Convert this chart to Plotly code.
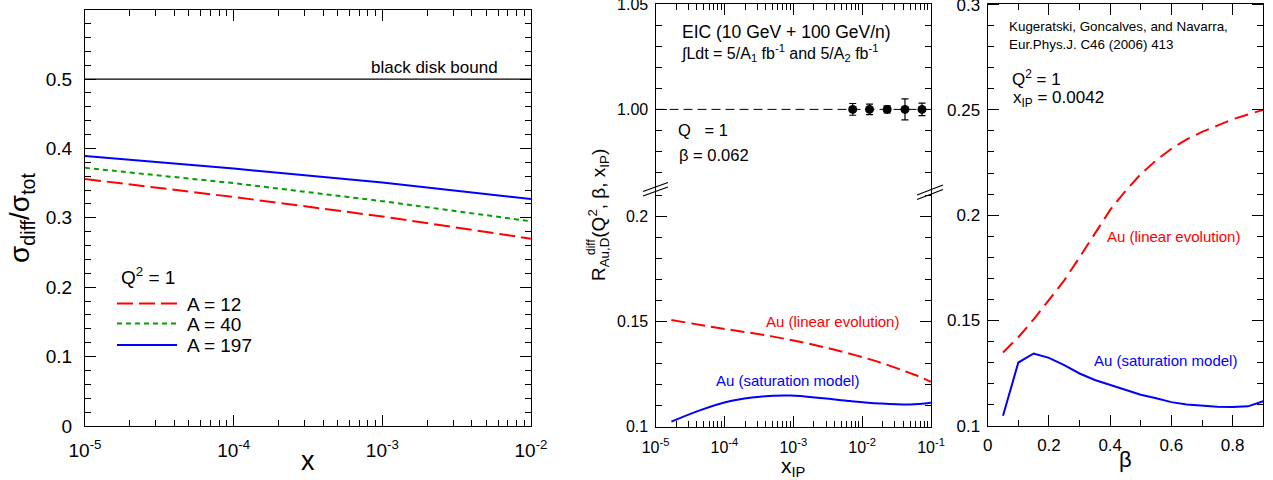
import plotly.graph_objects as go

W, H = 1273, 480
FONT = "Liberation Sans, Arial, Helvetica, sans-serif"

# ---------------- data ----------------
# left panel: sigma_diff / sigma_tot vs x  (Q^2 = 1)
x_left = [1e-5, 1e-4, 1e-3, 1e-2]
a12 = [0.356, 0.330, 0.302, 0.270]
a40 = [0.372, 0.350, 0.324, 0.295]
a197 = [0.389, 0.371, 0.351, 0.327]
black_disk = 0.5
legend_labels = ["A = 12", "A = 40", "A = 197"]

# middle panel: R^diff vs x_IP
xip_lin = [1.7e-5, 9.1e-5, 4.9e-4, 2.6e-3, 1.38e-2, 5.9e-2, 1e-1]
lin_mid = [0.1508, 0.1468, 0.1430, 0.1381, 0.1318, 0.1246, 0.1214]
xip_sat = [1.7e-5, 4.5e-5, 1.23e-4, 3.3e-4, 9.1e-4, 2.75e-3, 6.8e-3, 1.8e-2, 5e-2, 1e-1]
sat_mid = [0.1024, 0.1079, 0.1122, 0.1143, 0.1148, 0.1135, 0.1122, 0.1111, 0.1106, 0.1114]
eic_x = [7.3e-3, 1.28e-2, 2.31e-2, 4.19e-2, 7.4e-2]
eic_y = [1.0, 1.0, 1.0, 1.0, 1.0]
eic_err = [0.0028, 0.0025, 0.0017, 0.005, 0.003]
ref_one = 1.0

# right panel: R^diff vs beta
beta = [0.05, 0.10, 0.15, 0.20, 0.25, 0.30, 0.35, 0.40, 0.45,
        0.50, 0.55, 0.60, 0.65, 0.70, 0.75, 0.80, 0.85, 0.90]
lin_beta = [0.1348, 0.1420, 0.1505, 0.1595, 0.1690, 0.1800, 0.1915, 0.2025, 0.2115,
            0.2195, 0.2260, 0.2315, 0.2360, 0.2395, 0.2425, 0.2455, 0.2478, 0.2500]
sat_beta = [0.1047, 0.1300, 0.1343, 0.1322, 0.1288, 0.1248, 0.1217, 0.1193, 0.1169,
            0.1147, 0.1130, 0.1112, 0.1101, 0.1095, 0.1090, 0.1089, 0.1092, 0.1116]

# tick labels
decade_exps = [-5, -4, -3, -2, -1]
decade_text = ["10<sup>-5</sup>", "10<sup>-4</sup>", "10<sup>-3</sup>",
               "10<sup>-2</sup>", "10<sup>-1</sup>"]

RED, GREEN, BLUE = "#ff0000", "#00a000", "#0000ff"
RED_DASH, GREEN_DASH = "16px,6px", "5px,4px"


def px(x):
    return x / W


def py(y):
    return 1 - y / H


def log_minor(lo, hi):
    vals = []
    for e in range(lo, hi):
        for m in range(2, 10):
            vals.append(m * 10.0 ** e)
    return vals


def decades(lo, hi):
    vals, txt = [], []
    for e, t in zip(decade_exps, decade_text):
        if lo <= e <= hi:
            vals.append(10.0 ** e)
            txt.append(t)
    return vals, txt


fig = go.Figure()

# left panel traces
left_series = [(a12, RED, RED_DASH), (a40, GREEN, GREEN_DASH), (a197, BLUE, "solid")]
for (ys, col, dsh), lab in zip(left_series, legend_labels):
    fig.add_trace(go.Scatter(x=x_left, y=ys, mode="lines", name=lab, showlegend=False,
                             line=dict(color=col, width=2, dash=dsh), xaxis="x", yaxis="y"))

# middle panel traces
fig.add_trace(go.Scatter(x=xip_lin, y=lin_mid, mode="lines", showlegend=False,
                         line=dict(color=RED, width=2, dash="14px,6px", shape="spline"),
                         xaxis="x2", yaxis="y2"))
fig.add_trace(go.Scatter(x=xip_sat, y=sat_mid, mode="lines", showlegend=False,
                         line=dict(color=BLUE, width=2, shape="spline"),
                         xaxis="x2", yaxis="y2"))
fig.add_trace(go.Scatter(x=eic_x, y=eic_y, mode="markers", showlegend=False,
                         marker=dict(color="black", size=9),
                         error_y=dict(type="data", array=eic_err, color="black",
                                      thickness=1.2, width=3.5),
                         xaxis="x3", yaxis="y3"))

# right panel traces
fig.add_trace(go.Scatter(x=beta, y=lin_beta, mode="lines", showlegend=False,
                         line=dict(color=RED, width=2, dash="14px,7px"),
                         xaxis="x4", yaxis="y4"))
fig.add_trace(go.Scatter(x=beta, y=sat_beta, mode="lines", showlegend=False,
                         line=dict(color=BLUE, width=2),
                         xaxis="x4", yaxis="y4"))

base = dict(showline=True, linecolor="black", linewidth=1.2, ticks="inside",
            ticklen=11, tickwidth=1.2, tickcolor="black", showgrid=False,
            zeroline=False, color="black", ticklabeloverflow="allow", automargin=False)
minor_in = dict(ticks="inside", ticklen=6, tickwidth=1.2, tickcolor="black")

lx_vals, lx_text = decades(-5, -2)
mx_vals, mx_text = decades(-5, -1)

fig.update_layout(
    # left
    xaxis=dict(base, domain=[px(85), px(531)], type="log", range=[-5, -2], anchor="y",
               tickmode="array", tickvals=lx_vals, ticktext=lx_text, mirror="allticks",
               tickfont=dict(size=19), ticklabelstandoff=7,
               minor=dict(minor_in, tickmode="array", tickvals=log_minor(-5, -2))),
    yaxis=dict(base, domain=[py(426), py(10)], range=[0, 0.5995], anchor="x",
               tick0=0, dtick=0.1, mirror="allticks",
               tickfont=dict(size=19), ticklabelstandoff=8,
               minor=dict(minor_in, dtick=0.02, tick0=0)),
    # middle lower
    xaxis2=dict(base, domain=[px(655.5), px(931)], type="log", range=[-5, -1], anchor="y2",
                tickmode="array", tickvals=mx_vals, ticktext=mx_text, mirror=False,
                tickfont=dict(size=16), ticklabelstandoff=6,
                minor=dict(minor_in, tickmode="array", tickvals=log_minor(-5, -1))),
    yaxis2=dict(base, domain=[py(426.7), py(190)], range=[0.1, 0.2127], anchor="x2",
                tick0=0.1, dtick=0.05, mirror="allticks",
                tickfont=dict(size=16), ticklabelstandoff=3,
                minor=dict(minor_in, dtick=0.01, tick0=0.1)),
    # middle upper
    xaxis3=dict(base, domain=[px(655.5), px(931)], type="log", range=[-5, -1], anchor="y3",
                side="top", tickmode="array", tickvals=mx_vals, showticklabels=False,
                mirror=False,
                minor=dict(minor_in, tickmode="array", tickvals=log_minor(-5, -1))),
    yaxis3=dict(base, domain=[py(190), py(4)], range=[0.9616, 1.0502], anchor="x3",
                tick0=1.0, dtick=0.05, tickformat=".2f", mirror="allticks",
                tickfont=dict(size=16), ticklabelstandoff=3,
                minor=dict(minor_in, dtick=0.01, tick0=1.0)),
    # right
    xaxis4=dict(base, domain=[px(987.7), px(1263.3)], range=[0, 0.9], anchor="y4",
                tick0=0, dtick=0.2, mirror="allticks",
                tickfont=dict(size=17), ticklabelstandoff=4,
                minor=dict(minor_in, dtick=0.1, tick0=0)),
    yaxis4=dict(base, domain=[py(425.7), py(3.5)], range=[0.1, 0.3005], anchor="x4",
                tick0=0.1, dtick=0.05, mirror="allticks",
                tickfont=dict(size=17), ticklabelstandoff=3,
                minor=dict(minor_in, dtick=0.01, tick0=0.1)),
)

shapes = [
    # black disk bound
    dict(type="line", xref="x domain", yref="y", x0=0, x1=1, y0=black_disk, y1=black_disk,
         line=dict(color="black", width=1.2)),
    # reference line at 1.00
    dict(type="line", xref="x3 domain", yref="y3", x0=0, x1=1, y0=ref_one, y1=ref_one,
         line=dict(color="black", width=1, dash="9px,5px")),
]
# axis break marks
for (x0, y0, x1, y1) in [(643, 196, 668, 187), (643, 191.5, 668, 182.5),
                         (917, 199.5, 943, 189.5), (917, 195, 943, 185)]:
    shapes.append(dict(type="line", xref="paper", yref="paper",
                       x0=px(x0), y0=py(y0), x1=px(x1), y1=py(y1),
                       line=dict(color="black", width=1.2)))
# legend sample lines (left panel key)
for (ys, col, dsh), ly in zip(left_series, [303.5, 323.5, 345]):
    shapes.append(dict(type="line", xref="paper", yref="paper",
                       x0=px(117), x1=px(177), y0=py(ly), y1=py(ly),
                       line=dict(color=col, width=2, dash=dsh)))


def ann(text, x, y, size, color="black", xanchor="left", angle=0, yanchor="middle"):
    return dict(text=text, x=px(x), y=py(y), xref="paper", yref="paper",
                xanchor=xanchor, yanchor=yanchor, showarrow=False, textangle=angle,
                font=dict(size=size, color=color, family=FONT))


annotations = [
    ann("black disk bound", 500, 67, 17, xanchor="right"),
    ann("σ<sub>diff</sub>/σ<sub>tot</sub>", 22, 218, 28, xanchor="center", angle=-90),
    ann("x", 308, 478, 27, xanchor="center", yanchor="bottom"),
    ann("Q<sup>2</sup> = 1", 119, 276, 19),
    ann(legend_labels[0], 185, 304, 19),
    ann(legend_labels[1], 185, 324, 19),
    ann(legend_labels[2], 185, 345, 19),
    ann("EIC (10 GeV + 100 GeV/n)", 680, 32, 17.5),
    ann("∫Ldt = 5/A<sub>1</sub> fb<sup>-1</sup> and 5/A<sub>2</sub> fb<sup>-1</sup>", 679, 53, 16),
    ann("Q   = 1", 676, 130, 16.5),
    ann("β = 0.062", 677, 155, 16.5),
    ann("Au (linear evolution)", 832, 321, 15, color=RED, xanchor="center"),
    ann("Au (saturation model)", 787, 380, 15, color=BLUE, xanchor="center"),
    ann("R<sub>Au,D</sub>(Q<sup>2</sup>, β, x<sub>IP</sub>)", 598, 283, 19,
        xanchor="center", yanchor="bottom", angle=-90),
    ann("diff", 591, 247, 12, xanchor="center", angle=-90),
    ann("x<sub>IP</sub>", 793, 467, 21, xanchor="center"),
    ann("Kugeratski, Goncalves, and Navarra,", 1007, 26, 13.4),
    ann("Eur.Phys.J. C46 (2006) 413", 1007, 44, 13.4),
    ann("Q<sup>2</sup> = 1", 1010, 78, 17),
    ann("x<sub>IP</sub> = 0.0042", 1011, 99, 17),
    ann("Au (linear evolution)", 1173, 236, 15, color=RED, xanchor="center"),
    ann("Au (saturation model)", 1165, 360, 15, color=BLUE, xanchor="center"),
    ann("β", 1125, 459, 22, xanchor="center"),
]

fig.update_layout(
    width=W, height=H, autosize=False,
    margin=dict(l=0, r=0, t=0, b=0, pad=0, autoexpand=False),
    paper_bgcolor="white", plot_bgcolor="white",
    font=dict(family=FONT, color="black"),
    shapes=shapes, annotations=annotations,
    showlegend=False,
)

fig.write_html("out.html",
               config={"displayModeBar": False, "responsive": False},
               post_script="document.body.style.margin='0';"
                           "document.body.style.overflow='hidden';")
